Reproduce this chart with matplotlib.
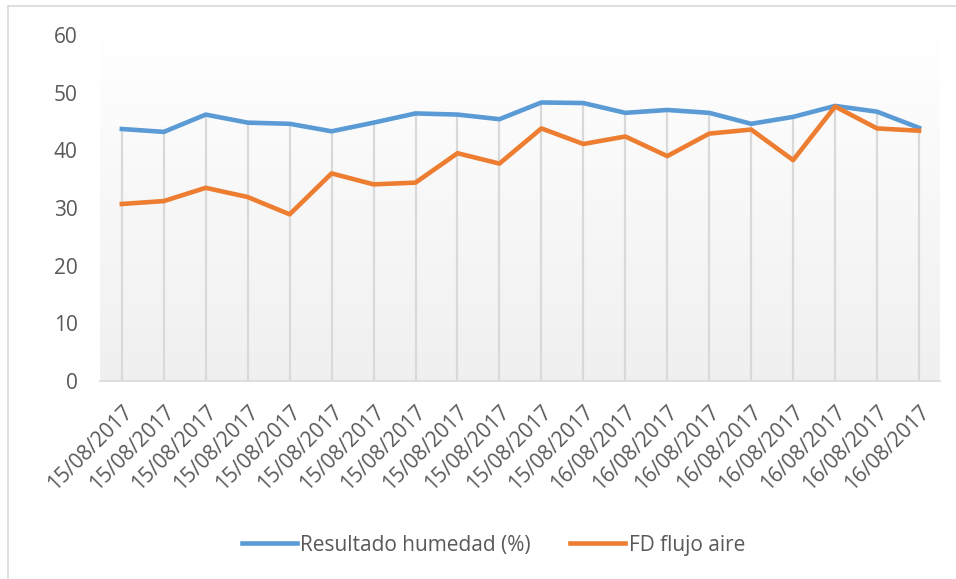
import matplotlib
matplotlib.use("Agg")
import matplotlib.pyplot as plt
import numpy as np
from matplotlib.lines import Line2D

plt.rcParams['font.family'] = ['Open Sans', 'DejaVu Sans']

fechas = ["15/08/2017"] * 12 + ["16/08/2017"] * 8
humedad = [43.7, 43.2, 46.2, 44.8, 44.6, 43.3, 44.8, 46.4, 46.2, 45.4,
           48.3, 48.2, 46.5, 47.0, 46.5, 44.6, 45.8, 47.7, 46.7, 43.9]
flujo_aire = [30.7, 31.2, 33.5, 31.9, 28.9, 36.0, 34.1, 34.4, 39.5, 37.7,
              43.8, 41.1, 42.4, 39.0, 42.9, 43.6, 38.3, 47.6, 43.8, 43.4]

azul = "#5B9BD5"
naranja = "#ED7D31"
gris_txt = "#595959"

fig = plt.figure(figsize=(9.56, 5.79), dpi=100)
ax = fig.add_axes([100/956, 1 - 381/579, 840/956, 346/579])

x = np.arange(len(fechas))

# fondo degradado del area de trazado
grad = np.linspace(0.94, 1.0, 256).reshape(-1, 1)
ax.imshow(np.dstack([grad, grad, grad]), aspect='auto', origin='lower',
          extent=[-0.52, 19.5, 0, 60], zorder=0)

# lineas de caida
tope = np.maximum(humedad, flujo_aire)
ax.vlines(x, 0, tope, color="#d9d9d9", lw=1.6, zorder=1)

ax.plot(x, humedad, color=azul, lw=3.3, label="Resultado humedad (%)", zorder=3)
ax.plot(x, flujo_aire, color=naranja, lw=3.3, label="FD flujo aire", zorder=3)

ax.set_xlim(-0.52, 19.5)
ax.set_ylim(0, 60)
ax.set_yticks(range(0, 61, 10))
ax.set_xticks(x)
ax.set_xticklabels(fechas, rotation=45, ha='right', va='top',
                   rotation_mode='anchor')

for s in ['top', 'right', 'left']:
    ax.spines[s].set_visible(False)
ax.spines['bottom'].set_color("#d9d9d9")
ax.spines['bottom'].set_linewidth(1.2)

ax.tick_params(axis='y', length=0, pad=16, labelsize=15, labelcolor=gris_txt)
ax.tick_params(axis='x', length=0, pad=15, labelsize=15, labelcolor=gris_txt)

leg = fig.legend(loc='center', bbox_to_anchor=(0.516, 1 - 545/579), ncol=2,
                 frameon=False, fontsize=15, handlelength=2.65,
                 handletextpad=0.15, columnspacing=1.9)
for t in leg.get_texts():
    t.set_color(gris_txt)

# borde exterior del grafico
fig.add_artist(Line2D([8/956, 8/956], [0, 1 - 6/579], color="#d9d9d9", lw=1.2))
fig.add_artist(Line2D([8/956, 1], [1 - 6/579, 1 - 6/579], color="#d9d9d9", lw=1.2))

fig.savefig("out.png", dpi=100)
